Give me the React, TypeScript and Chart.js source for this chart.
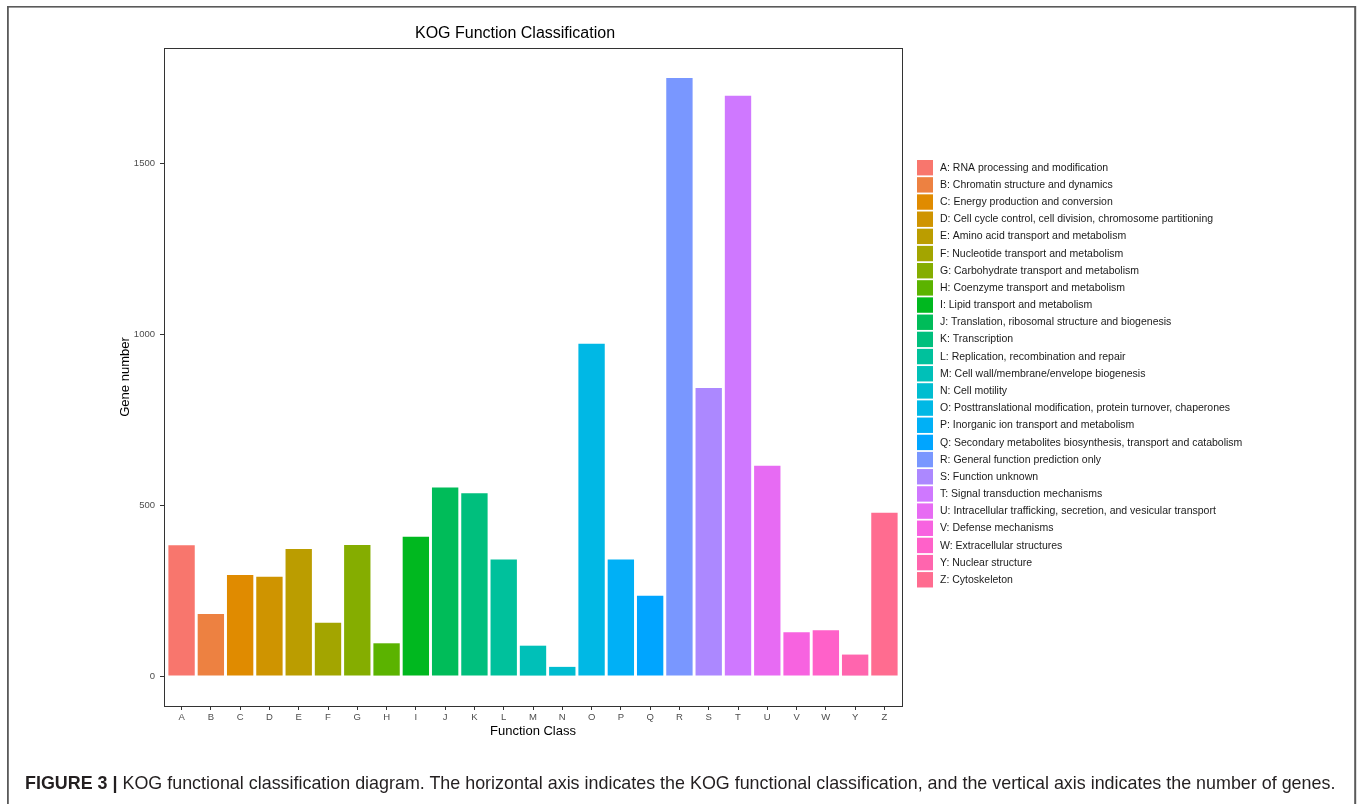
import React, { useEffect, useRef } from "react";
import { Chart, registerables } from "chart.js";

Chart.register(...registerables);

const FONT = '"Liberation Sans", Arial, Helvetica, sans-serif';

const chartTitle = "KOG Function Classification";
const xAxisTitle = "Function Class";
const yAxisTitle = "Gene number";

const categories = [
  "A", "B", "C", "D", "E", "F", "G", "H", "I", "J", "K", "L", "M",
  "N", "O", "P", "Q", "R", "S", "T", "U", "V", "W", "Y", "Z",
];

const descriptions = [
  "RNA processing and modification",
  "Chromatin structure and dynamics",
  "Energy production and conversion",
  "Cell cycle control, cell division, chromosome partitioning",
  "Amino acid transport and metabolism",
  "Nucleotide transport and metabolism",
  "Carbohydrate transport and metabolism",
  "Coenzyme transport and metabolism",
  "Lipid transport and metabolism",
  "Translation, ribosomal structure and biogenesis",
  "Transcription",
  "Replication, recombination and repair",
  "Cell wall/membrane/envelope biogenesis",
  "Cell motility",
  "Posttranslational modification, protein turnover, chaperones",
  "Inorganic ion transport and metabolism",
  "Secondary metabolites biosynthesis, transport and catabolism",
  "General function prediction only",
  "Function unknown",
  "Signal transduction mechanisms",
  "Intracellular trafficking, secretion, and vesicular transport",
  "Defense mechanisms",
  "Extracellular structures",
  "Nuclear structure",
  "Cytoskeleton",
];

const geneCounts = [
  383, 182, 296, 291, 372, 156, 384, 96, 408, 552, 535, 341, 89,
  27, 973, 341, 235, 1751, 843, 1699, 616, 128, 134, 63, 478,
];

const yTicks = [0, 500, 1000, 1500];

const captionBold = "FIGURE 3 |";
const captionText =
  " KOG functional classification diagram. The horizontal axis indicates the KOG functional classification, and the vertical axis indicates the number of genes.";

// ggplot2 default hue palette (hcl, c = 100, l = 65)
function hcl(h: number, c = 100, l = 65): string {
  const hr = (h * Math.PI) / 180;
  const U = c * Math.cos(hr);
  const V = c * Math.sin(hr);
  const Y = l > 7.999592 ? Math.pow((l + 16) / 116, 3) : l / 903.3;
  const u = U / (13 * l) + 0.1978398;
  const v = V / (13 * l) + 0.4683363;
  const X = (9 * Y * u) / (4 * v);
  const Z = -X / 3 - 5 * Y + (3 * Y) / v;
  const lin = [
    3.240479 * X - 1.53715 * Y - 0.498535 * Z,
    -0.969256 * X + 1.875992 * Y + 0.041556 * Z,
    0.055648 * X - 0.204043 * Y + 1.057311 * Z,
  ];
  const g = (x: number) => {
    const t = x > 0.00304 ? 1.055 * Math.pow(x, 1 / 2.4) - 0.055 : 12.92 * x;
    return Math.min(1, Math.max(0, t));
  };
  return (
    "#" +
    lin
      .map((x) => Math.round(g(x) * 255).toString(16).padStart(2, "0"))
      .join("")
  );
}

const barColors = categories.map((_, i) => hcl(15 + (360 / categories.length) * i));

const yDataMax = Math.max(...geneCounts);
const yExpand = yDataMax * 0.05;
const yMin = 0 - yExpand;
const yMax = yDataMax + yExpand;

const decorPlugin = {
  id: "decor",
  afterDraw(chart: any) {
    const { ctx, chartArea } = chart;
    ctx.save();
    // outer figure frame (top, left, right)
    ctx.fillStyle = "#5a5a5a";
    ctx.fillRect(7, 6, 1349, 1.6); // top
    ctx.fillRect(7, 6, 1.8, 820); // left
    ctx.fillRect(1354.2, 6, 2, 820); // right
    // panel border
    ctx.strokeStyle = "#333333";
    ctx.lineWidth = 1;
    ctx.strokeRect(
      Math.round(chartArea.left) + 0.5,
      Math.round(chartArea.top) + 0.5,
      Math.round(chartArea.right - chartArea.left),
      Math.round(chartArea.bottom - chartArea.top)
    );
    // title
    ctx.fillStyle = "#000000";
    ctx.font = `16px ${FONT}`;
    ctx.textAlign = "center";
    ctx.textBaseline = "alphabetic";
    ctx.fillText(chartTitle, 515, 38);
    // legend
    const boxX = chartArea.right + 15;
    const top = 160;
    const pitch = 17.17;
    ctx.font = `10.5px ${FONT}`;
    ctx.textAlign = "left";
    ctx.textBaseline = "middle";
    categories.forEach((c, i) => {
      const y = top + i * pitch;
      ctx.fillStyle = barColors[i];
      ctx.fillRect(boxX, y, 16, 15.4);
      ctx.fillStyle = "#1a1a1a";
      ctx.fillText(`${c}: ${descriptions[i]}`, boxX + 23, y + 7.9);
    });
    ctx.restore();
  },
};

export default function App() {
  const canvasRef = useRef<HTMLCanvasElement>(null);

  useEffect(() => {
    const prevMargin = document.body.style.margin;
    document.body.style.margin = "0";
    const canvas = canvasRef.current;
    if (!canvas) return;
    const chart = new Chart(canvas, {
      type: "bar",
      data: {
        datasets: [
          {
            data: categories.map((_, i) => ({ x: i, y: geneCounts[i] })),
            backgroundColor: barColors,
            borderWidth: 0,
            barPercentage: 0.9,
            categoryPercentage: 1,
          },
        ],
      },
      options: {
        responsive: false,
        animation: false,
        devicePixelRatio: 1,
        layout: { padding: { left: 114, right: 458, top: 48, bottom: 58 } },
        plugins: {
          legend: { display: false },
          tooltip: { enabled: false },
          title: { display: false },
        },
        scales: {
          x: {
            type: "linear",
            min: -0.6,
            max: categories.length - 1 + 0.6,
            offset: false,
            afterBuildTicks: (s: any) => {
              s.ticks = categories.map((_, i) => ({ value: i }));
            },
            afterFit: (s: any) => {
              s.height = 40;
            },
            ticks: {
              autoSkip: false,
              maxRotation: 0,
              minRotation: 0,
              padding: 2,
              color: "#4d4d4d",
              font: { family: FONT, size: 9.5 },
              callback: (v: any) => categories[Math.round(Number(v))] ?? "",
            },
            grid: {
              display: true,
              drawOnChartArea: false,
              drawTicks: true,
              tickLength: 4,
              tickColor: "#333333",
              offset: false,
            },
            border: { display: true, color: "#333333", width: 1 },
            title: {
              display: true,
              text: xAxisTitle,
              color: "#000000",
              font: { family: FONT, size: 13 },
              padding: { top: 0, bottom: 7.2 },
            },
          },
          y: {
            type: "linear",
            min: yMin,
            max: yMax,
            afterBuildTicks: (s: any) => {
              s.ticks = yTicks.map((v) => ({ value: v }));
            },
            afterFit: (s: any) => {
              s.width = 50;
            },
            ticks: {
              padding: 5,
              color: "#4d4d4d",
              font: { family: FONT, size: 9.5 },
              callback: (v: any) => String(v),
            },
            grid: {
              display: true,
              drawOnChartArea: false,
              drawTicks: true,
              tickLength: 4,
              tickColor: "#333333",
            },
            border: { display: true, color: "#333333", width: 1 },
            title: {
              display: true,
              text: yAxisTitle,
              color: "#000000",
              font: { family: FONT, size: 13 },
              padding: { top: 3.2, bottom: 0 },
            },
          },
        },
      },
      plugins: [decorPlugin],
    } as any);
    return () => {
      chart.destroy();
      document.body.style.margin = prevMargin;
    };
  }, []);

  return (
    <div style={{ position: "relative", width: 1360, height: 804, fontFamily: FONT }}>
      <canvas
        ref={canvasRef}
        width={1360}
        height={804}
        style={{ position: "absolute", left: 0, top: 0, width: 1360, height: 804 }}
      />
      <div
        style={{
          position: "absolute",
          left: 25,
          top: 773,
          fontSize: 17.9,
          lineHeight: "20px",
          whiteSpace: "nowrap",
          color: "#231f20",
        }}
      >
        <b>{captionBold}</b>
        {captionText}
      </div>
    </div>
  );
}
